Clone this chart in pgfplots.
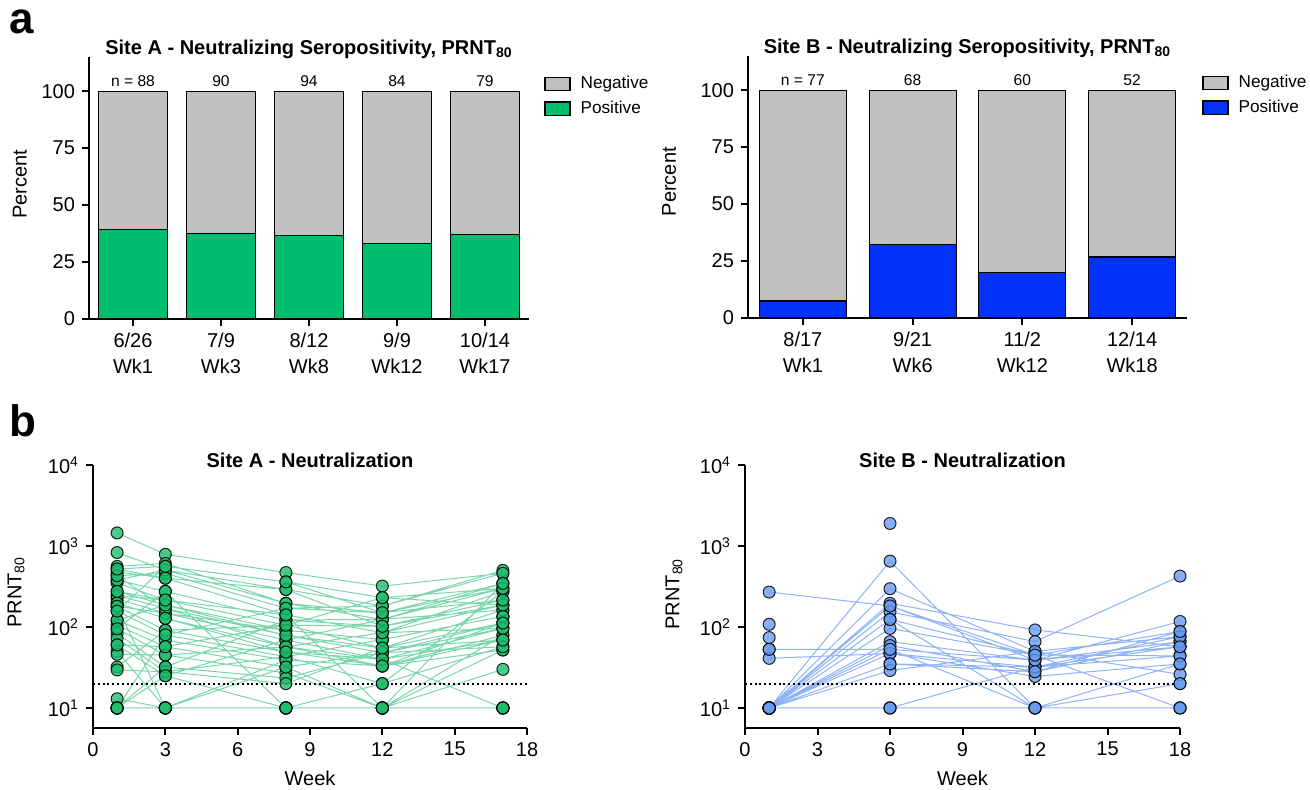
\documentclass[border=0pt]{standalone}
\usepackage{fontspec}
\setmainfont{Liberation Sans}
\usepackage{pgfplots}
\usepackage{pgfplotstable}
\pgfplotsset{compat=1.18}

\definecolor{negGray}{RGB}{192,192,192}
\definecolor{posGreen}{RGB}{0,190,110}
\definecolor{posBlue}{RGB}{5,50,250}
\definecolor{dotGreen}{RGB}{30,190,110}
\definecolor{lineGreen}{RGB}{90,205,150}
\definecolor{dotBlue}{RGB}{105,155,240}
\definecolor{lineBlue}{RGB}{115,160,245}

\newcommand{\tickfont}{\fontsize{10}{13}\selectfont}

\pgfplotsset{
  prism/.style={
    scale only axis,
    axis x line*=bottom, axis y line*=left,
    axis line style={-, line width=1pt},
    tick style={black, line width=1pt},
    tick align=outside,
    major tick length=3.5pt,
    minor tick num=0,
    ticklabel style={font=\tickfont},
    label style={font=\tickfont},
    title style={font=\bfseries\fontsize{10}{12}\selectfont, at={(0.5,1)}, anchor=base},
    /pgf/number format/assume math mode=true,
    clip=false,
  },
  seropos/.style={
    prism,
    ybar stacked,
    ymin=0, ymax=115,
    ytick={0,25,50,75,100},
    xticklabel style={align=center},
    height=131pt,
    ylabel={Percent},
    title style={yshift=-5pt},
    legend style={at={(1,1)}, anchor=north west, xshift=4.5pt, yshift=-5.5pt,
      draw=none, fill=none, font=\fontsize{8.6}{10}\selectfont, row sep=0.5pt,
      /tikz/every odd column/.append style={column sep=3pt}},
    legend cell align=left,
    reverse legend,
    legend image code/.code={\draw[##1, draw=black, line width=0.6pt] (0pt,-3.3pt) rectangle (12.5pt,3.3pt);},
  },
  titer/.style={
    prism,
    xmin=0, xmax=18, ymin=5.66, ymax=10000,
    xtick={0,3,...,18},
    ytick={10,100,1000,10000},
    yticklabels={10\textsuperscript{1},10\textsuperscript{2},10\textsuperscript{3},10\textsuperscript{4}},
    yminorticks=false,
    height=131.5pt,
    xlabel={Week},
    ylabel={PRNT\textsubscript{80}},
    xlabel style={at={(axis description cs:0.5,-0.19)}, anchor=center},
    title style={yshift=-7pt},
  },
  dots/.style={only marks, mark=*, mark size=3pt,
    mark options={fill=#1, fill opacity=0.8, draw=black, draw opacity=0.85, line width=0.5pt}},
  paths/.style={#1, line width=0.5pt, opacity=0.8, unbounded coords=jump, mark=none},
  lod/.style={black, line width=1.1pt, dash pattern=on 1pt off 1.4pt, mark=none},
}
\tikzset{nlab/.style={font=\fontsize{7.8}{9}\selectfont, anchor=center, yshift=5pt}}

% seropositivity (percent positive / negative)
\pgfplotstableread{
x pos neg
1 39.3 60.7
2 37.4 62.6
3 36.8 63.2
4 33.0 67.0
5 37.0 63.0
}\siteAbars

\pgfplotstableread{
x pos neg
1 7.5 92.5
2 32.2 67.8
3 19.8 80.2
4 26.8 73.2
}\siteBbars

% PRNT80 titres per participant, rows split by nan
\pgfplotstableread[row sep=\\]{
wk titer\\
1 1450\\ 3 790\\ 8 470\\ 12 320\\ 17 460\\ nan nan\\
1 830\\ 3 505\\ 8 290\\ 12 182\\ 17 500\\ nan nan\\
1 560\\ 3 610\\ 8 196\\ 12 124\\ 17 345\\ nan nan\\
1 520\\ 3 560\\ 8 360\\ 12 230\\ 17 300\\ nan nan\\
1 480\\ 3 400\\ 8 141\\ 12 85\\ 17 275\\ nan nan\\
1 430\\ 3 460\\ 8 170\\ 12 150\\ 17 215\\ nan nan\\
1 380\\ 3 275\\ 8 122\\ 12 102\\ 17 187\\ nan nan\\
1 350\\ 3 215\\ 8 105\\ 12 55\\ 17 162\\ nan nan\\
1 275\\ 3 187\\ 8 91\\ 12 70\\ 17 135\\ nan nan\\
1 245\\ 3 170\\ 8 79\\ 12 48\\ 17 112\\ nan nan\\
1 223\\ 3 148\\ 8 69\\ 12 40\\ 17 96\\ nan nan\\
1 197\\ 3 128\\ 8 57\\ 12 33\\ 17 79\\ nan nan\\
1 180\\ 3 91\\ 8 49\\ 12 40\\ 17 69\\ nan nan\\
1 157\\ 3 80\\ 8 43\\ 12 20\\ 17 57\\ nan nan\\
1 121\\ 3 69\\ 8 39\\ 12 33\\ 17 52\\ nan nan\\
1 105\\ 3 57\\ 8 32\\ 12 10\\ 17 30\\ nan nan\\
1 95\\ 3 45\\ 8 27\\ 12 10\\ 17 79\\ nan nan\\
1 83\\ 3 32\\ 8 23.4\\ 12 48\\ 17 96\\ nan nan\\
1 72\\ 3 28\\ 8 20\\ 12 55\\ 17 112\\ nan nan\\
1 60\\ 3 25\\ 8 10\\ 12 10\\ 17 52\\ nan nan\\
1 50\\ 3 10\\ 8 10\\ 12 10\\ 17 10\\ nan nan\\
1 46\\ 3 45\\ 8 57\\ 12 85\\ 17 187\\ nan nan\\
1 32\\ 3 91\\ 8 105\\ 12 102\\ 17 215\\ nan nan\\
1 29.5\\ 3 28\\ 8 43\\ 12 70\\ 17 135\\ nan nan\\
1 13\\ 3 10\\ 8 10\\ 12 10\\ 17 10\\ nan nan\\
1 10\\ 3 32\\ 8 122\\ 12 124\\ 17 162\\ nan nan\\
1 10\\ 3 10\\ 8 39\\ 12 33\\ 17 69\\ nan nan\\
1 10\\ 3 10\\ 8 10\\ 12 20\\ 17 275\\ nan nan\\
1 10\\ 3 25\\ 8 69\\ 12 124\\ 17 300\\ nan nan\\
1 10\\ 3 10\\ 8 10\\ 12 10\\ 17 10\\ nan nan\\
1 10\\ 3 10\\ 8 32\\ 12 48\\ 17 57\\ nan nan\\
1 180\\ 3 148\\ 8 91\\ 12 70\\ 17 135\\ nan nan\\
1 380\\ 3 505\\ 8 196\\ 12 150\\ 17 345\\ nan nan\\
1 245\\ 3 215\\ 8 141\\ 12 85\\ 17 96\\ nan nan\\
1 10\\ 3 80\\ 8 170\\ 12 182\\ 17 460\\ nan nan\\
1 430\\ 3 170\\ 8 57\\ 12 40\\ 17 10\\ nan nan\\
1 121\\ 3 187\\ 8 79\\ 12 55\\ 17 69\\ nan nan\\
1 60\\ 3 57\\ 8 105\\ 12 230\\ 17 187\\ nan nan\\
1 520\\ 3 400\\ 8 290\\ 12 102\\ 17 215\\ nan nan\\
1 197\\ 3 128\\ 8 49\\ 12 33\\ 17 112\\ nan nan\\
1 180\\ 3 10\\ 8 10\\ 12 10\\ 17 10\\ nan nan\\
1 95\\ 3 275\\ 8 10\\ 12 10\\ 17 10\\ nan nan\\
1 157\\ 3 560\\ 8 360\\ 12 150\\ 17 300\\ nan nan\\
1 275\\ 3 215\\ 8 141\\ 12 10\\ 17 345\\ nan nan\\
}\siteA

\pgfplotstableread[row sep=\\]{
wk titer\\
1 270\\ 6 182\\ 12 45\\ 18 44\\ nan nan\\
1 53\\ 6 53\\ 12 39\\ 18 66\\ nan nan\\
1 41\\ 6 47\\ 12 32\\ 18 57\\ nan nan\\
1 10\\ 6 650\\ 12 10\\ 18 10\\ nan nan\\
1 10\\ 6 297\\ 12 50\\ 18 76\\ nan nan\\
1 10\\ 6 196\\ 12 92\\ 18 57\\ nan nan\\
1 10\\ 6 154\\ 12 66\\ 18 425\\ nan nan\\
1 10\\ 6 124\\ 12 10\\ 18 20\\ nan nan\\
1 10\\ 6 96\\ 12 45\\ 18 88\\ nan nan\\
1 10\\ 6 66\\ 12 39\\ 18 117\\ nan nan\\
1 10\\ 6 59\\ 12 28\\ 18 66\\ nan nan\\
1 10\\ 6 47\\ 12 24.5\\ 18 35\\ nan nan\\
1 10\\ 6 35\\ 12 32\\ 18 76\\ nan nan\\
1 10\\ 6 29\\ 12 50\\ 18 26\\ nan nan\\
1 10\\ 6 10\\ 12 32\\ 18 44\\ nan nan\\
1 10\\ 6 10\\ 12 10\\ 18 10\\ nan nan\\
1 10\\ 6 53\\ 12 10\\ 18 35\\ nan nan\\
1 10\\ 6 182\\ 12 39\\ 18 57\\ nan nan\\
6 1900\\ nan nan\\
1 108\\ nan nan\\
1 74\\ nan nan\\
1 53\\ nan nan\\
1 10\\ 6 10\\ 12 10\\ 18 20\\ nan nan\\
1 10\\ 6 124\\ 12 45\\ 18 10\\ nan nan\\
1 10\\ 6 35\\ 12 28\\ 18 88\\ nan nan\\
}\siteB

\begin{document}
\begin{tikzpicture}
\path[use as bounding box] (0,0) rectangle (655pt,-395pt);

\node[font=\bfseries\fontsize{22}{22}\selectfont] at (11pt,-11pt) {a};
\node[font=\bfseries\fontsize{22}{22}\selectfont] at (11.5pt,-210.5pt) {b};

% ---- a, Site A
\begin{axis}[seropos,
  at={(44.5pt,-159.5pt)}, anchor=south west,
  width=220pt, xmin=0.5, xmax=5.5, bar width=34.5pt,
  xtick={1,2,3,4,5},
  xticklabels={{6/26\\Wk1},{7/9\\Wk3},{8/12\\Wk8},{9/9\\Wk12},{10/14\\Wk17}},
  ylabel style={at={(axis description cs:-0.157,0.515)}, anchor=center},
  title={Site A - Neutralizing Seropositivity, PRNT\textsubscript{80}},
]
\addplot[fill=posGreen, draw=black, line width=0.6pt] table[x=x, y=pos] {\siteAbars};
\addlegendentry{Positive}
\addplot[fill=negGray, draw=black, line width=0.6pt] table[x=x, y=neg] {\siteAbars};
\addlegendentry{Negative}
% number tested at each visit
\node[nlab] at (axis cs:1,100) {n = 88};
\node[nlab] at (axis cs:2,100) {90};
\node[nlab] at (axis cs:3,100) {94};
\node[nlab] at (axis cs:4,100) {84};
\node[nlab] at (axis cs:5,100) {79};
\end{axis}

% ---- a, Site B
\begin{axis}[seropos,
  at={(374pt,-159pt)}, anchor=south west,
  width=219.5pt, xmin=0.5, xmax=4.5, bar width=43.5pt,
  xtick={1,2,3,4},
  xticklabels={{8/17\\Wk1},{9/21\\Wk6},{11/2\\Wk12},{12/14\\Wk18}},
  ylabel style={at={(axis description cs:-0.18,0.52)}, anchor=center},
  title={Site B - Neutralizing Seropositivity, PRNT\textsubscript{80}},
]
\addplot[fill=posBlue, draw=black, line width=0.6pt] table[x=x, y=pos] {\siteBbars};
\addlegendentry{Positive}
\addplot[fill=negGray, draw=black, line width=0.6pt] table[x=x, y=neg] {\siteBbars};
\addlegendentry{Negative}
\node[nlab] at (axis cs:1,100) {n = 77};
\node[nlab] at (axis cs:2,100) {68};
\node[nlab] at (axis cs:3,100) {60};
\node[nlab] at (axis cs:4,100) {52};
\end{axis}

% ---- b, Site A
\begin{semilogyaxis}[titer,
  at={(46.5pt,-364pt)}, anchor=south west,
  width=217pt,
  ylabel style={at={(axis description cs:-0.177,0.517)}, anchor=center},
  title={Site A - Neutralization},
]
\addplot[paths=lineGreen] table[x=wk, y=titer] {\siteA};
\addplot[dots=dotGreen] table[x=wk, y=titer] {\siteA};
\addplot[lod] coordinates {(0,20) (18,20)};
\end{semilogyaxis}

% ---- b, Site B
\begin{semilogyaxis}[titer,
  at={(372.5pt,-364pt)}, anchor=south west,
  width=217.5pt,
  ylabel style={at={(axis description cs:-0.163,0.51)}, anchor=center},
  title={Site B - Neutralization},
]
\addplot[paths=lineBlue] table[x=wk, y=titer] {\siteB};
\addplot[dots=dotBlue] table[x=wk, y=titer] {\siteB};
\addplot[lod] coordinates {(0,20) (18,20)};
\end{semilogyaxis}
\end{tikzpicture}
\end{document}
